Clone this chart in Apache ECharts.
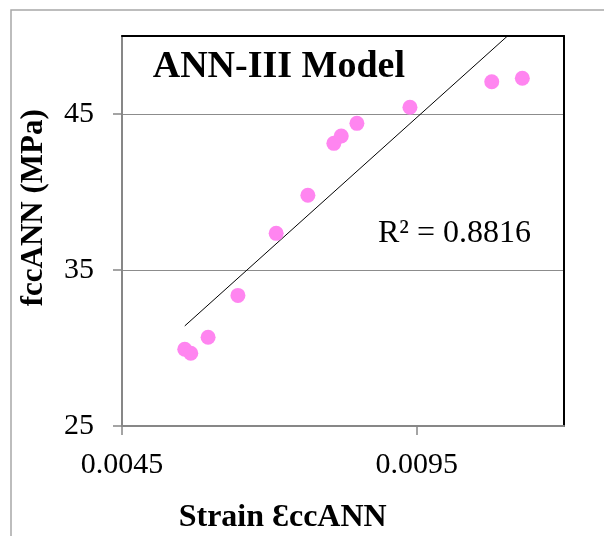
<!DOCTYPE html>
<html><head><meta charset="utf-8">
<script src="https://cdn.jsdelivr.net/npm/echarts@6/dist/echarts.min.js"></script>
<style>html,body{margin:0;padding:0;background:#fff}#c{width:604px;height:536px}</style>
</head><body><div id="c"></div>
<script>
// Data
const strainANN = [0.005565, 0.005667, 0.005961, 0.006467, 0.007116, 0.007654, 0.008095, 0.008220, 0.008486, 0.009386, 0.010774, 0.011293];
const fccANN    = [29.92, 29.66, 30.69, 33.37, 37.35, 39.79, 43.12, 43.59, 44.40, 45.43, 47.07, 47.29];
const xTickValues = [0.0045, 0.0095];
const xTickLabels = ['0.0045', '0.0095'];
const yTickValues = [25, 35, 45];
const yTickLabels = ['25', '35', '45'];
const chartTitle = 'ANN-III Model';
const r2Text = 'R\u00B2 = 0.8816';
const xTitle = 'Strain \u0190ccANN';
const yTitle = 'fccANN (MPa)';

// Linear trendline (least squares) across the data's x-range
const n = strainANN.length;
const mx = strainANN.reduce((a, b) => a + b, 0) / n;
const my = fccANN.reduce((a, b) => a + b, 0) / n;
let sxy = 0, sxx = 0;
for (let i = 0; i < n; i++) { sxy += (strainANN[i] - mx) * (fccANN[i] - my); sxx += (strainANN[i] - mx) ** 2; }
const slope = sxy / sxx, intercept = my - slope * mx;
const xMinD = Math.min(...strainANN), xMaxD = Math.max(...strainANN);
const trend = [[xMinD, intercept + slope * xMinD], [xMaxD, intercept + slope * xMaxD]];

const serif = '"Liberation Serif", "Times New Roman", serif';
const gray = '#878787';
const chart = echarts.init(document.getElementById('c'), null, { renderer: 'canvas' });
chart.setOption({
  backgroundColor: '#fff',
  animation: false,
  grid: { left: 122, top: 36, right: 40, bottom: 110, containLabel: false },
  xAxis: [{
    type: 'value', min: 0.0045, max: 0.012, interval: 0.005,
    axisLine: { show: true, lineStyle: { color: gray, width: 2 } },
    axisTick: { show: true, length: 9, lineStyle: { color: gray, width: 1.5 }, customValues: xTickValues },
    axisLabel: { customValues: xTickValues, margin: 24, color: '#000', fontSize: 30, fontFamily: serif,
      formatter: v => { const i = xTickValues.findIndex(t => Math.abs(t - v) < 1e-9); return i >= 0 ? xTickLabels[i] : ''; } },
    splitLine: { show: false }
  }, {
    type: 'value', position: 'top', min: 0.0045, max: 0.012,
    axisLine: { show: true, lineStyle: { color: '#000', width: 2 } },
    axisTick: { show: false }, axisLabel: { show: false }, splitLine: { show: false }
  }],
  yAxis: [{
    type: 'value', min: 25, max: 50, interval: 10,
    axisLine: { show: true, lineStyle: { color: gray, width: 2 } },
    axisTick: { show: true, length: 9, lineStyle: { color: gray, width: 1.5 }, customValues: yTickValues },
    axisLabel: { customValues: yTickValues, margin: 28, color: '#000', fontSize: 30, fontFamily: serif,
      formatter: v => { const i = yTickValues.indexOf(Math.round(v)); return i >= 0 ? yTickLabels[i] : ''; } },
    splitLine: { show: true, lineStyle: { color: '#8c8c8c', width: 1 } }
  }, {
    type: 'value', position: 'right', min: 25, max: 50,
    axisLine: { show: true, lineStyle: { color: '#000', width: 2 } },
    axisTick: { show: false }, axisLabel: { show: false }, splitLine: { show: false }
  }],
  series: [{
    type: 'line', data: trend, symbol: 'none', clip: true,
    lineStyle: { color: '#000', width: 1 }, z: 2
  }, {
    type: 'scatter', data: strainANN.map((x, i) => [x, fccANN[i]]),
    symbol: 'circle', symbolSize: 15, itemStyle: { color: '#ff85f0', opacity: 1 }, z: 3
  }],
  graphic: [
    { type: 'rect', shape: { x: 11, y: 10, width: 700, height: 700 }, style: { fill: 'none', stroke: '#a8a8a8', lineWidth: 1.5 }, silent: true, z: -1 },
    { type: 'text', left: 152.7, top: 66.7 - 19, style: { text: chartTitle, font: 'bold 38px ' + serif, fill: '#000', verticalAlign: 'top' } },
    { type: 'text', x: 378, y: 233.5, style: { text: r2Text, font: '32px ' + serif, fill: '#000', align: 'left', verticalAlign: 'middle' } },
    { type: 'text', x: 282.7, y: 517.5, style: { text: xTitle, font: 'bold 32px ' + serif, fill: '#000', align: 'center', verticalAlign: 'middle' } },
    { type: 'text', x: 33.5, y: 207.7, rotation: Math.PI / 2, style: { text: yTitle, font: 'bold 31px ' + serif, fill: '#000', align: 'center', verticalAlign: 'middle' } }
  ]
});
</script>
</body></html>
